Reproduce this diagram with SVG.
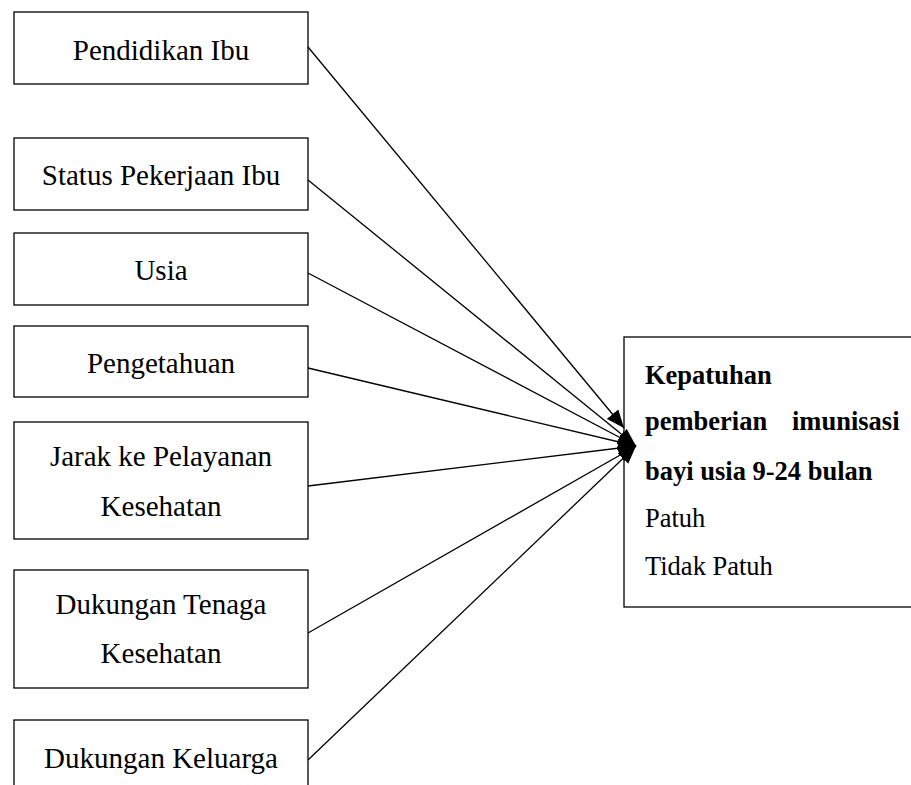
<svg xmlns="http://www.w3.org/2000/svg" width="911" height="785" viewBox="0 0 911 785">
<style>
.box{fill:#fff;stroke:#000;stroke-width:1.3}
.t{font-family:"Liberation Serif","Times New Roman",serif;font-size:29px;fill:#000;text-anchor:middle}
.r{font-family:"Liberation Serif","Times New Roman",serif;font-size:26.5px;fill:#000}
.b{font-weight:bold}
.c{stroke:#000;stroke-width:1.3;fill:none;marker-end:url(#ah)}
</style>
<defs>
<marker id="ah" markerUnits="userSpaceOnUse" markerWidth="19" markerHeight="15" refX="18" refY="7.5" orient="auto">
<path d="M0,0 L18,7.5 L0,15 z" fill="#000"/>
</marker>
</defs>
<rect width="911" height="785" fill="#fff"/>
<g id="pendidikan">
<rect class="box" x="14" y="12" width="294" height="72"/>
<text class="t" x="161" y="60">Pendidikan Ibu</text>
</g>
<g id="status">
<rect class="box" x="14" y="138" width="294" height="72"/>
<text class="t" x="161" y="185">Status Pekerjaan Ibu</text>
</g>
<g id="usia">
<rect class="box" x="14" y="233" width="294" height="72"/>
<text class="t" x="161" y="280">Usia</text>
</g>
<g id="pengetahuan">
<rect class="box" x="14" y="326" width="294" height="71"/>
<text class="t" x="161" y="373">Pengetahuan</text>
</g>
<g id="jarak">
<rect class="box" x="14" y="422" width="294" height="117"/>
<text class="t" x="161" y="466">Jarak ke Pelayanan</text>
<text class="t" x="161" y="516">Kesehatan</text>
</g>
<g id="tenaga">
<rect class="box" x="14" y="570" width="294" height="118"/>
<text class="t" x="161" y="614">Dukungan Tenaga</text>
<text class="t" x="161" y="663">Kesehatan</text>
</g>
<g id="keluarga">
<rect class="box" x="14" y="720" width="294" height="80"/>
<text class="t" x="161" y="768">Dukungan Keluarga</text>
</g>
<g id="kepatuhan">
<rect class="box" x="624" y="337" width="300" height="270"/>
<text class="r b" x="645" y="384">Kepatuhan</text>
<text class="r b" y="430"><tspan x="645">pemberian</tspan><tspan x="792">imunisasi</tspan></text>
<text class="r b" x="645" y="480">bayi usia 9-24 bulan</text>
<text class="r" x="645" y="527">Patuh</text>
<text class="r" x="645" y="575">Tidak Patuh</text>
</g>
<g id="connectors">
<line class="c" x1="308" y1="47" x2="624" y2="428"/>
<line class="c" x1="308" y1="180" x2="636" y2="446"/>
<line class="c" x1="308" y1="273" x2="636" y2="446"/>
<line class="c" x1="308" y1="368" x2="636" y2="446"/>
<line class="c" x1="308" y1="486" x2="636" y2="446"/>
<line class="c" x1="308" y1="633" x2="636" y2="446"/>
<line class="c" x1="308" y1="760" x2="636" y2="446"/>
</g>
</svg>
